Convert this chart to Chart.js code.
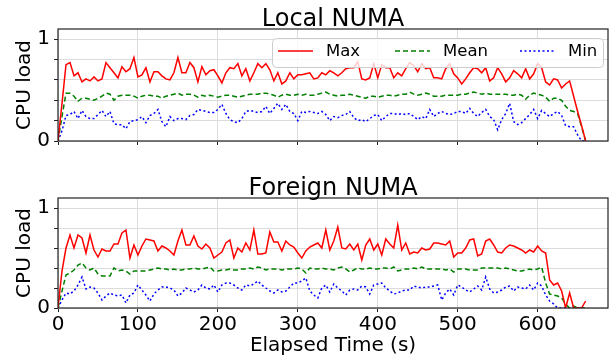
<!DOCTYPE html>
<html>
<head>
<meta charset="utf-8">
<script src="https://cdn.jsdelivr.net/npm/chart.js@4"></script>
<style>
  html, body { margin: 0; padding: 0; background: #fff; }
  #wrap { position: relative; width: 616px; height: 360px; overflow: hidden; }
  canvas { position: absolute; left: 0; }
  #localChart { top: 0; }
  #foreignChart { top: 169px; }
</style>
</head>
<body>
<div id="wrap">
  <canvas id="localChart" width="616" height="146"></canvas>
  <canvas id="foreignChart" width="616" height="191"></canvas>
</div>
<script>
// samples every 5 s, from 0 to 660 s
const sampleStep = 5;
const xTicks = [0, 100, 200, 300, 400, 500, 600];
const yTicks = [0, 0.2, 0.4, 0.6, 0.8, 1];
const seriesNames = ['Max', 'Mean', 'Min'];

const localMax = [
  0, 0.37, 0.75, 0.77, 0.64, 0.67, 0.58, 0.61, 0.59, 0.63,
  0.59, 0.61, 0.77, 0.72, 0.67, 0.62, 0.73, 0.68, 0.71, 0.82,
  0.63, 0.65, 0.72, 0.58, 0.68, 0.68, 0.64, 0.61, 0.60, 0.67,
  0.82, 0.67, 0.67, 0.77, 0.72, 0.58, 0.73, 0.65, 0.69, 0.70,
  0.64, 0.57, 0.67, 0.72, 0.71, 0.76, 0.64, 0.71, 0.59, 0.67,
  0.76, 0.72, 0.76, 0.70, 0.59, 0.67, 0.56, 0.59, 0.67, 0.61,
  0.65, 0.65, 0.66, 0.67, 0.61, 0.62, 0.67, 0.65, 0.69, 0.67,
  0.64, 0.67, 0.71, 0.72, 0.72, 0.78, 0.61, 0.60, 0.62, 0.76,
  0.62, 0.75, 0.72, 0.72, 0.62, 0.67, 0.64, 0.71, 0.77, 0.74,
  0.68, 0.76, 0.71, 0.72, 0.62, 0.62, 0.61, 0.71, 0.76, 0.66,
  0.62, 0.56, 0.61, 0.67, 0.72, 0.71, 0.67, 0.72, 0.59, 0.62,
  0.72, 0.66, 0.58, 0.62, 0.69, 0.66, 0.62, 0.71, 0.61, 0.66,
  0.76, 0.72, 0.58, 0.55, 0.61, 0.60, 0.52, 0.56, 0.59, 0.44,
  0.29, 0.15, 0
];
const localMean = [
  0, 0.24, 0.47, 0.47, 0.44, 0.39, 0.42, 0.42, 0.41, 0.40,
  0.42, 0.44, 0.47, 0.46, 0.40, 0.44, 0.45, 0.45, 0.45, 0.44,
  0.42, 0.44, 0.45, 0.45, 0.44, 0.44, 0.42, 0.44, 0.45, 0.46,
  0.47, 0.45, 0.46, 0.46, 0.45, 0.43, 0.45, 0.44, 0.45, 0.44,
  0.43, 0.44, 0.45, 0.45, 0.44, 0.43, 0.44, 0.45, 0.46, 0.46,
  0.46, 0.47, 0.47, 0.46, 0.45, 0.43, 0.45, 0.46, 0.45, 0.45,
  0.46, 0.45, 0.46, 0.45, 0.45, 0.46, 0.47, 0.48, 0.46, 0.45,
  0.44, 0.45, 0.45, 0.46, 0.45, 0.44, 0.43, 0.42, 0.44, 0.44,
  0.43, 0.44, 0.45, 0.45, 0.44, 0.45, 0.46, 0.46, 0.48, 0.46,
  0.45, 0.46, 0.47, 0.46, 0.44, 0.44, 0.44, 0.45, 0.45, 0.45,
  0.45, 0.46, 0.46, 0.47, 0.48, 0.47, 0.46, 0.47, 0.46, 0.46,
  0.46, 0.46, 0.46, 0.45, 0.45, 0.46, 0.45, 0.41, 0.45, 0.47,
  0.46, 0.45, 0.43, 0.39, 0.42, 0.42, 0.40, 0.34, 0.30, 0.29,
  0.27, 0.14, 0
];
const localMin = [
  0, 0.10, 0.25, 0.26, 0.29, 0.22, 0.30, 0.24, 0.22, 0.22,
  0.26, 0.30, 0.24, 0.29, 0.17, 0.16, 0.16, 0.12, 0.19, 0.20,
  0.21, 0.24, 0.18, 0.25, 0.27, 0.31, 0.19, 0.14, 0.24, 0.20,
  0.22, 0.22, 0.21, 0.25, 0.26, 0.31, 0.30, 0.29, 0.28, 0.28,
  0.31, 0.36, 0.27, 0.21, 0.19, 0.18, 0.22, 0.29, 0.30, 0.29,
  0.28, 0.29, 0.34, 0.27, 0.32, 0.37, 0.31, 0.36, 0.29, 0.27,
  0.20, 0.29, 0.28, 0.29, 0.28, 0.27, 0.29, 0.26, 0.20, 0.24,
  0.23, 0.25, 0.26, 0.29, 0.23, 0.20, 0.21, 0.19, 0.22, 0.25,
  0.26, 0.20, 0.24, 0.27, 0.27, 0.26, 0.27, 0.26, 0.27, 0.24,
  0.21, 0.24, 0.22, 0.31, 0.24, 0.27, 0.29, 0.27, 0.26, 0.27,
  0.29, 0.29, 0.27, 0.32, 0.27, 0.24, 0.28, 0.31, 0.24, 0.21,
  0.11, 0.21, 0.27, 0.37, 0.19, 0.16, 0.18, 0.22, 0.26, 0.31,
  0.22, 0.30, 0.27, 0.24, 0.27, 0.29, 0.25, 0.15, 0.14, 0.14,
  0.06, 0, 0
];

const foreignMax = [
  0, 0.37, 0.60, 0.73, 0.60, 0.73, 0.70, 0.55, 0.73, 0.58,
  0.51, 0.59, 0.57, 0.57, 0.64, 0.64, 0.75, 0.78, 0.50, 0.63,
  0.53, 0.62, 0.69, 0.68, 0.67, 0.57, 0.62, 0.60, 0.57, 0.53,
  0.67, 0.78, 0.63, 0.63, 0.72, 0.62, 0.59, 0.64, 0.60, 0.50,
  0.53, 0.56, 0.65, 0.68, 0.50, 0.60, 0.56, 0.65, 0.58, 0.78,
  0.54, 0.54, 0.55, 0.76, 0.66, 0.66, 0.57, 0.67, 0.63, 0.61,
  0.55, 0.50, 0.57, 0.61, 0.63, 0.65, 0.60, 0.78, 0.58, 0.67,
  0.81, 0.60, 0.59, 0.64, 0.58, 0.64, 0.48, 0.63, 0.69, 0.58,
  0.64, 0.53, 0.69, 0.64, 0.60, 0.83, 0.58, 0.65, 0.54, 0.56,
  0.55, 0.60, 0.58, 0.59, 0.65, 0.65, 0.64, 0.63, 0.67, 0.51,
  0.55, 0.55, 0.60, 0.68, 0.69, 0.52, 0.54, 0.67, 0.69, 0.63,
  0.56, 0.55, 0.60, 0.63, 0.62, 0.60, 0.58, 0.55, 0.58, 0.56,
  0.62, 0.57, 0.55, 0.28, 0.23, 0.25, 0.17, 0, 0.15, 0,
  0, 0, 0.07
];
const foreignMean = [
  0, 0.17, 0.33, 0.35, 0.38, 0.43, 0.45, 0.40, 0.38, 0.40,
  0.34, 0.32, 0.32, 0.32, 0.40, 0.37, 0.38, 0.37, 0.34, 0.37,
  0.37, 0.37, 0.37, 0.38, 0.39, 0.40, 0.39, 0.39, 0.38, 0.39,
  0.38, 0.38, 0.39, 0.39, 0.40, 0.39, 0.39, 0.40, 0.41, 0.37,
  0.37, 0.38, 0.38, 0.39, 0.38, 0.38, 0.39, 0.39, 0.40, 0.39,
  0.41, 0.40, 0.38, 0.39, 0.39, 0.39, 0.38, 0.39, 0.39, 0.39,
  0.40, 0.39, 0.35, 0.40, 0.39, 0.39, 0.40, 0.39, 0.39, 0.38,
  0.40, 0.41, 0.39, 0.36, 0.38, 0.40, 0.39, 0.39, 0.40, 0.39,
  0.39, 0.40, 0.40, 0.39, 0.41, 0.37, 0.38, 0.39, 0.39, 0.40,
  0.39, 0.41, 0.39, 0.39, 0.39, 0.39, 0.39, 0.38, 0.39, 0.36,
  0.39, 0.39, 0.39, 0.38, 0.38, 0.38, 0.40, 0.40, 0.40, 0.40,
  0.40, 0.39, 0.40, 0.39, 0.38, 0.37, 0.37, 0.38, 0.39, 0.38,
  0.39, 0.41, 0.25, 0.14, 0.13, 0.12, 0.10, 0.04, 0, 0.02,
  0, 0, 0
];
const foreignMin = [
  0, 0.08, 0.15, 0.14, 0.17, 0.23, 0.31, 0.19, 0.21, 0.20,
  0.15, 0.08, 0.12, 0.15, 0.13, 0.12, 0.13, 0.05, 0.13, 0.15,
  0.23, 0.18, 0.13, 0.07, 0.14, 0.18, 0.21, 0.21, 0.20, 0.18,
  0.12, 0.15, 0.20, 0.18, 0.16, 0.18, 0.23, 0.20, 0.19, 0.23,
  0.16, 0.23, 0.25, 0.25, 0.23, 0.20, 0.18, 0.23, 0.22, 0.24,
  0.27, 0.23, 0.20, 0.17, 0.15, 0.18, 0.16, 0.17, 0.21, 0.25,
  0.25, 0.27, 0.30, 0.17, 0.13, 0.10, 0.20, 0.23, 0.16, 0.24,
  0.20, 0.17, 0.13, 0.18, 0.19, 0.18, 0.22, 0.21, 0.14, 0.23,
  0.24, 0.25, 0.20, 0.17, 0.14, 0.15, 0.17, 0.18, 0.18, 0.22,
  0.21, 0.20, 0.21, 0.21, 0.22, 0.23, 0.08, 0.15, 0.19, 0.13,
  0.23, 0.21, 0.18, 0.16, 0.19, 0.22, 0.18, 0.31, 0.19, 0.15,
  0.16, 0.18, 0.21, 0.22, 0.17, 0.21, 0.20, 0.19, 0.23, 0.18,
  0.25, 0.22, 0.13, 0.07, 0.04, 0, 0, 0, 0, 0,
  0, 0, 0
];

const FONT = 'DejaVu Sans';
const lineStyles = [
  { borderColor: '#ff0000', borderWidth: 1.5, borderDash: [] },
  { borderColor: '#008000', borderWidth: 1.5, borderDash: [5, 3] },
  { borderColor: '#0000ff', borderWidth: 1.5, borderDash: [2, 2.5] }
];

function toPoints(values) {
  return values.map((v, i) => ({ x: i * sampleStep, y: v }));
}

// frame round the plot area plus the subplot title centred over it
const framePlugin = {
  id: 'frame',
  afterDatasetsDraw(chart, args, opts) {
    const { ctx, chartArea: a } = chart;
    ctx.save();
    ctx.strokeStyle = '#222';
    ctx.lineWidth = 1.2;
    ctx.strokeRect(a.left, a.top, a.right - a.left, a.bottom - a.top);
    ctx.fillStyle = '#000';
    ctx.font = '24px "' + FONT + '"';
    ctx.textAlign = 'center';
    ctx.textBaseline = 'alphabetic';
    ctx.fillText(opts.text, (a.left + a.right) / 2, a.top - 3);
    ctx.restore();
  }
};

// legend drawn inside the plot, upper right
const insideLegend = {
  id: 'insideLegend',
  afterDraw(chart) {
    const ctx = chart.ctx;
    const box = { x: 272, y: 38, w: 331, h: 29 };
    const slots = [278, 395, 520];
    ctx.save();
    ctx.beginPath();
    ctx.roundRect(box.x + 0.5, box.y + 0.5, box.w, box.h, 4);
    ctx.fillStyle = 'rgba(255,255,255,0.8)';
    ctx.fill();
    ctx.strokeStyle = '#cccccc';
    ctx.lineWidth = 1;
    ctx.stroke();
    chart.data.datasets.forEach((ds, i) => {
      const x = slots[i];
      const y = box.y + 13;
      ctx.beginPath();
      ctx.setLineDash(ds.borderDash || []);
      ctx.strokeStyle = ds.borderColor;
      ctx.lineWidth = ds.borderWidth;
      ctx.moveTo(x, y);
      ctx.lineTo(x + 35, y);
      ctx.stroke();
      ctx.setLineDash([]);
      ctx.fillStyle = '#000';
      ctx.font = '16.5px "' + FONT + '"';
      ctx.textBaseline = 'middle';
      ctx.textAlign = 'left';
      ctx.fillText(ds.label, x + 48, y + 1);
    });
    ctx.restore();
  }
};

function makeChart(id, title, series, isBottom) {
  const datasets = series.map((vals, i) => Object.assign({
    label: seriesNames[i],
    data: toPoints(vals),
    pointRadius: 0,
    fill: false,
    tension: 0
  }, lineStyles[i]));

  return new Chart(document.getElementById(id), {
    type: 'line',
    data: { datasets },
    plugins: isBottom ? [framePlugin] : [framePlugin, insideLegend],
    options: {
      responsive: false,
      animation: false,
      devicePixelRatio: 1,
      layout: { padding: { left: 0, right: 8, top: 29, bottom: 0 } },
      plugins: {
        legend: { display: false },
        tooltip: { enabled: false },
        title: { display: false },
        frame: { text: title }
      },
      scales: {
        x: {
          type: 'linear',
          min: 0,
          max: 688,
          afterBuildTicks(scale) {
            scale.ticks = xTicks.map(v => ({ value: v }));
          },
          afterFit(scale) {
            scale.height = isBottom ? 52 : 5;
            scale.paddingLeft = 0;
            scale.paddingRight = 0;
          },
          ticks: {
            display: isBottom,
            autoSkip: false,
            color: '#000',
            padding: 1,
            maxRotation: 0,
            font: { family: FONT, size: 20 }
          },
          grid: { color: '#dcdcdc', lineWidth: 1, tickLength: 4, tickColor: '#222' },
          border: { display: false },
          title: {
            display: isBottom,
            text: 'Elapsed Time (s)',
            color: '#000',
            font: { family: FONT, size: 20 },
            padding: { top: 0, bottom: 2 }
          }
        },
        y: {
          min: 0,
          max: 1.1,
          afterBuildTicks(scale) {
            scale.ticks = yTicks.map(v => ({ value: v }));
          },
          afterFit(scale) {
            scale.width = 58;
            scale.paddingTop = 0;
            scale.paddingBottom = 0;
          },
          ticks: {
            autoSkip: false,
            color: '#000',
            padding: 4,
            font: { family: FONT, size: 20 },
            callback: v => (v === 0 ? '0' : v === 1 ? '1' : '')
          },
          grid: { color: '#dcdcdc', lineWidth: 1, tickLength: 4, tickColor: '#222' },
          border: { display: false },
          title: {
            display: true,
            text: 'CPU load',
            color: '#000',
            font: { family: FONT, size: 20 },
            padding: { top: 13, bottom: 0 }
          }
        }
      }
    }
  });
}

makeChart('localChart', 'Local NUMA', [localMax, localMean, localMin], false);
makeChart('foreignChart', 'Foreign NUMA', [foreignMax, foreignMean, foreignMin], true);
</script>
</body>
</html>
